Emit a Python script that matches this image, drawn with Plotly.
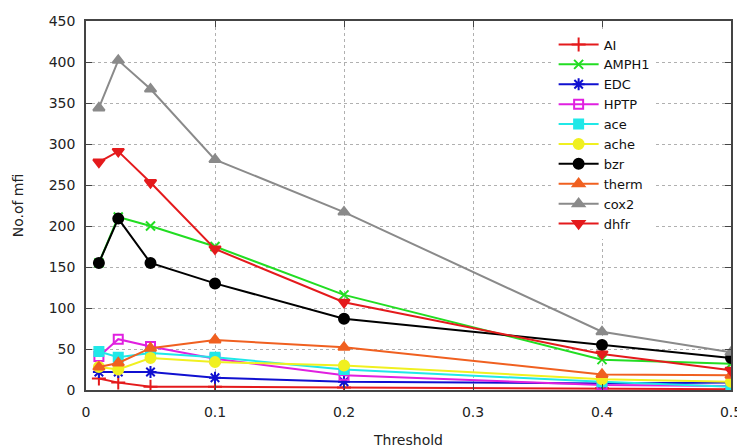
import plotly.graph_objects as go

thresholds = [0.01, 0.025, 0.05, 0.1, 0.2, 0.4, 0.5]

AI    = [14, 9, 4, 4, 3, 2, 1]
AMPH1 = [155, 211, 200, 175, 116, 37, 32]
EDC   = [22, 22, 22, 15, 10, 8, 9]
HPTP  = [41, 62, 53, 38, 18, 6, 5]
ace   = [47, 40, 45, 40, 25, 10, 4]
ache  = [28, 25, 39, 34, 30, 13, 10]
bzr   = [155, 209, 155, 130, 87, 55, 39]
therm = [28, 33, 51, 61, 52, 19, 18]
cox2  = [344, 402, 367, 281, 217, 71, 46]
dhfr  = [278, 291, 253, 172, 107, 44, 24]

series = [
    ("AI", AI, "#e41a1c", "cross-thin-open", 10),
    ("AMPH1", AMPH1, "#22dd22", "x-thin-open", 9),
    ("EDC", EDC, "#1010d0", "asterisk-open", 10),
    ("HPTP", HPTP, "#e020e0", "square-open", 9),
    ("ace", ace, "#20e8e8", "square", 9),
    ("ache", ache, "#f0f020", "circle", 10),
    ("bzr", bzr, "#000000", "circle", 10),
    ("therm", therm, "#f06020", "triangle-up", 10),
    ("cox2", cox2, "#8a8a8a", "triangle-up", 10),
    ("dhfr", dhfr, "#e41a1c", "triangle-down", 10),
]

x_ticks = [0, 0.1, 0.2, 0.3, 0.4, 0.5]
x_ticklabels = ["0", "0.1", "0.2", "0.3", "0.4", "0.5"]
y_ticks = list(range(0, 451, 50))

fig = go.Figure()
for name, vals, color, sym, size in series:
    fig.add_trace(go.Scatter(
        x=thresholds, y=vals, name=name, mode="lines+markers",
        line=dict(color=color, width=2),
        marker=dict(symbol=sym, size=size, color=color,
                    line=dict(color=color, width=2)),
    ))

font = dict(family="DejaVu Sans", size=14, color="#222222")
axis_common = dict(
    showline=True, linecolor="#444444", linewidth=1.5, mirror="ticks",
    ticks="inside", ticklen=6, tickcolor="#444444",
    showgrid=True, gridcolor="#b0b0b0", griddash="dot", gridwidth=1,
    zeroline=False, tickfont=font, automargin=False,
)

# page body has an 8px default margin, so the figure is sized to fit the window
fig.update_layout(
    width=737, height=440,
    margin=dict(l=78, r=14, t=13, b=58),
    paper_bgcolor="white", plot_bgcolor="white",
    font=font,
    showlegend=True,
    legend=dict(x=0.725, y=0.977, xanchor="left", yanchor="top",
                bgcolor="white", borderwidth=0,
                font=dict(family="DejaVu Sans", size=13, color="#111111"),
                tracegroupgap=0, itemwidth=40),
    xaxis=dict(range=[0, 0.5], tickvals=x_ticks, ticktext=x_ticklabels,
               ticklabelstandoff=8,
               title=dict(text="Threshold", font=font, standoff=20), **axis_common),
    yaxis=dict(range=[0, 450], tickvals=y_ticks, ticklabelstandoff=6,
               title=dict(text="No.of mfi", font=font, standoff=22), **axis_common),
)

fig.write_html("out.html")
